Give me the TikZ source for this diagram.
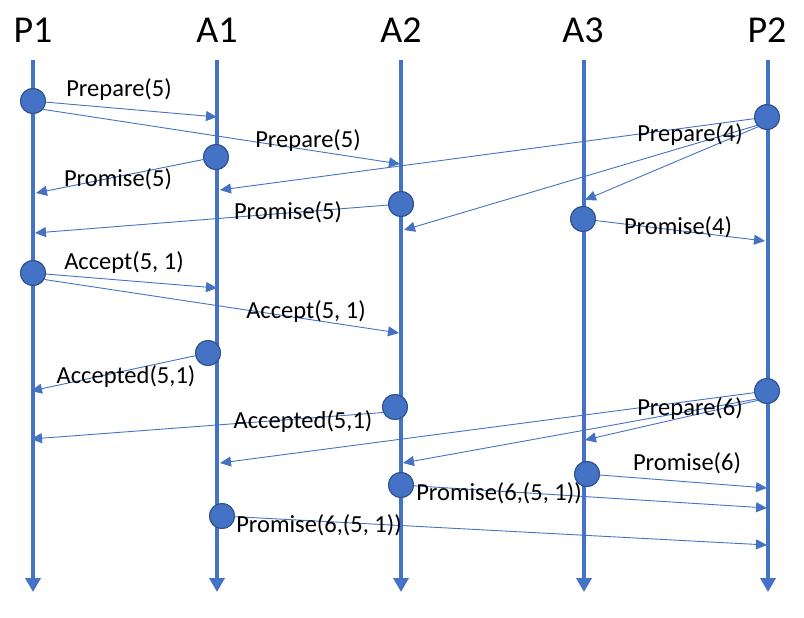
\documentclass[tikz,border=0pt]{standalone}
\usepackage{fontspec}
\setmainfont{Carlito}
\usetikzlibrary{arrows.meta}
\definecolor{lblue}{HTML}{4472C4}
\definecolor{dblue}{HTML}{2F528F}
\tikzset{
  life/.style={draw=lblue, line width=4.5pt, -{Triangle[length=14pt,width=15pt]}},
  msg/.style={draw=lblue, line width=0.9pt, -{Triangle[length=11pt,width=10pt]}},
  evt/.style={circle, minimum size=25pt, inner sep=0pt, fill=lblue, draw=dblue, line width=1pt},
  head/.style={anchor=base, inner sep=0pt, font=\fontsize{38}{44}\selectfont},
  lbl/.style={anchor=base, inner sep=0pt, font=\fontsize{24.5}{29}\selectfont}
}
\begin{document}
\begin{tikzpicture}[x=1pt,y=-1pt]
\useasboundingbox (0,0) rectangle (804,618);
% headers
\node[head] (hP1) at (33,43) {P1};
\node[head] (hA1) at (217,43) {A1};
\node[head] (hA2) at (401,43) {A2};
\node[head] (hA3) at (583,43) {A3};
\node[head] (hP2) at (767,43) {P2};
% lifelines
\foreach \n/\x in {P1/33,A1/217,A2/401,A3/584,P2/768}{
  \coordinate (\n t) at (\x,60);
  \coordinate (\n b) at (\x,592);
}
\draw[life] (P1t) -- (P1b);
\draw[life] (A1t) -- (A1b);
\draw[life] (A2t) -- (A2b);
\draw[life] (A3t) -- (A3b);
\draw[life] (P2t) -- (P2b);
% events
\node[evt] (c1) at (33,101) {};
\node[evt] (c2) at (216,157) {};
\node[evt] (c3) at (401,204) {};
\node[evt] (c4) at (767,117) {};
\node[evt] (c5) at (583,219) {};
\node[evt] (c6) at (33,273) {};
\node[evt] (c7) at (208,353) {};
\node[evt] (c8) at (395,407) {};
\node[evt] (c9) at (767,391) {};
\node[evt] (c10) at (587,474) {};
\node[evt] (c11) at (401,485) {};
\node[evt] (c12) at (222,516) {};
% arrow ends
\coordinate (e1) at (217,117);
\coordinate (e2) at (400,164);
\coordinate (e3) at (36,193);
\coordinate (e4) at (220,190);
\coordinate (e5) at (404,230);
\coordinate (e6) at (585,200);
\coordinate (e7) at (35,233);
\coordinate (e8) at (765,241);
\coordinate (e9) at (217,288);
\coordinate (e10) at (399,333);
\coordinate (e11) at (31,391);
\coordinate (e12) at (31,439);
\coordinate (e13) at (220,463);
\coordinate (e14) at (403,463);
\coordinate (e15) at (585,440);
\coordinate (e16) at (767,488);
\coordinate (e17) at (767,508);
\coordinate (e18) at (767,545);
% messages
\draw[msg] (c1) -- (e1);
\draw[msg] (c1.-40) -- (e2);
\draw[msg] (c2) -- (e3);
\draw[msg] (c4) -- (e4);
\draw[msg] (c4.220) -- (e5);
\draw[msg] (c4.228) -- (e6);
\draw[msg] (c3) -- (e7);
\draw[msg] (c5) -- (e8);
\draw[msg] (c6) -- (e9);
\draw[msg] (c6.-30) -- (e10);
\draw[msg] (c7) -- (e11);
\draw[msg] (c8.205) -- (e12);
\draw[msg] (c9) -- (e13);
\draw[msg] (c9.218) -- (e14);
\draw[msg] (c9.226) -- (e15);
\draw[msg] (c10) -- (e16);
\draw[msg] (c11) -- (e17);
\draw[msg] (c12) -- (e18);
% redraw events on top
\foreach \c in {c1,c2,c3,c4,c5,c6,c7,c8,c9,c10,c11,c12}{
  \path (\c.center) node[evt] {};
}
% labels
\node[lbl] (l1) at (119,97) {Prepare(5)};
\node[lbl] (l2) at (308,147) {Prepare(5)};
\node[lbl] (l3) at (118,186) {Promise(5)};
\node[lbl] (l4) at (690,141) {Prepare(4)};
\node[lbl] (l5) at (288,219) {Promise(5)};
\node[lbl] (l6) at (678,234) {Promise(4)};
\node[lbl] (l7) at (124,269) {Accept(5, 1)};
\node[lbl] (l8) at (306,318) {Accept(5, 1)};
\node[lbl] (l9) at (126,383) {Accepted(5,1)};
\node[lbl] (l10) at (303,428) {Accepted(5,1)};
\node[lbl] (l11) at (690,415) {Prepare(6)};
\node[lbl] (l12) at (687,470) {Promise(6)};
\node[lbl] (l13) at (499,500) {Promise(6,(5, 1))};
\node[lbl] (l14) at (319,532) {Promise(6,(5, 1))};
\end{tikzpicture}
\end{document}
